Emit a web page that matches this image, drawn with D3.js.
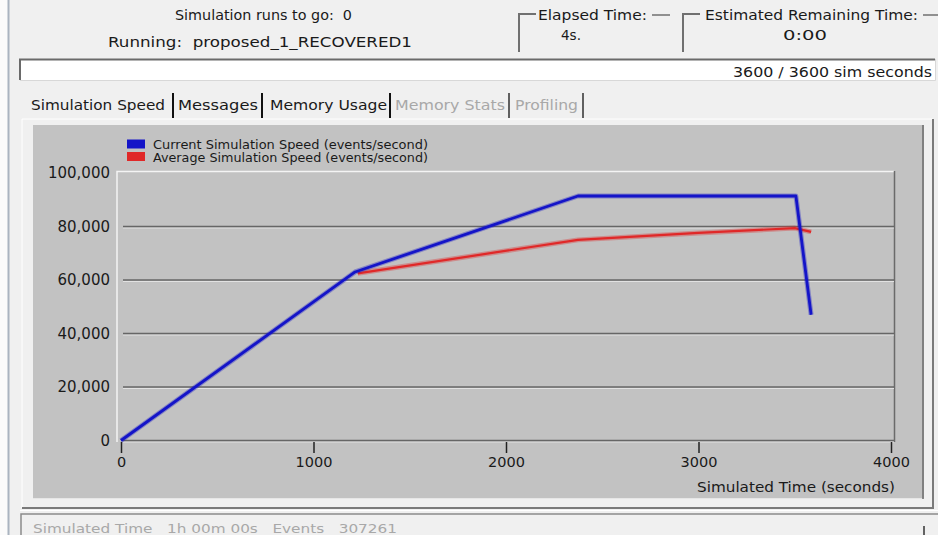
<!DOCTYPE html>
<html>
<head>
<meta charset="utf-8">
<script src="https://cdn.jsdelivr.net/npm/d3@7"></script>
<style>
  body { margin: 0; background: #f0f0f0; }
  svg text { font-family: "DejaVu Sans", sans-serif; font-size: 13.5px; fill: #1a1a1a; white-space: pre; }
</style>
</head>
<body>
<div id="chart"></div>
<script>
const width = 938;
const height = 535;

// series
const currentTime = [0, 1216, 2374, 3506, 3585];
const currentSpeed = [0, 63000, 91400, 91400, 47000];
const averageTime = [1230, 2374, 3000, 3500, 3585];
const averageSpeed = [62500, 75000, 77600, 79400, 78000];

const xTicks = [0, 1000, 2000, 3000, 4000];
const yTicks = [0, 20000, 40000, 60000, 80000, 100000];
const legendLabels = ["Current Simulation Speed (events/second)", "Average Simulation Speed (events/second)"];
const seriesColors = ["#1414c8", "#e02828"];
const tabNames = ["Simulation Speed", "Messages", "Memory Usage", "Memory Stats", "Profiling"];
const tabEnabled = [true, true, true, false, false];

const svg = d3.select("#chart")
    .append("svg")
    .attr("width", width)
    .attr("height", height);

// squeeze/stretch a text to the width it has in the screenshot
function fit(sel, w) {
    return sel.attr("textLength", w).attr("lengthAdjust", "spacingAndGlyphs");
}

// window edge
svg.append("rect").attr("x", 0).attr("y", 0).attr("width", 8).attr("height", height).attr("fill", "#fbfbfb");
svg.append("line").attr("x1", 8.5).attr("x2", 8.5).attr("y1", 0).attr("y2", height)
    .attr("stroke", "#aab4c0").attr("stroke-width", 2);

// status texts
fit(svg.append("text").attr("x", 175).attr("y", 20).text("Simulation runs to go:  0"), 177);
fit(svg.append("text").attr("x", 108).attr("y", 47).text("Running:  proposed_1_RECOVERED1"), 304);

// group boxes
function groupBox(x0, labelX, label, labelW, dashEnd, value, valueX, valueW) {
    svg.append("path").attr("d", `M${x0},52V14H${x0 + 17}`)
        .attr("fill", "none").attr("stroke", "#707070").attr("stroke-width", 2);
    fit(svg.append("text").attr("x", labelX).attr("y", 20).text(label), labelW);
    svg.append("line").attr("x1", labelX + labelW + 5).attr("x2", dashEnd).attr("y1", 15).attr("y2", 15)
        .attr("stroke", "#707070").attr("stroke-width", 1.5);
    fit(svg.append("text").attr("x", valueX).attr("y", 40).text(value), valueW);
}
groupBox(519, 538, "Elapsed Time:", 109, 670, "4s.", 561, 20);
groupBox(683, 705, "Estimated Remaining Time:", 213, 938, "0:00", 783, 44);

// progress bar
svg.append("rect").attr("x", 20).attr("y", 59).attr("width", 915).attr("height", 21)
    .attr("fill", "#ffffff");
svg.append("path").attr("d", "M20,80V59.5H935").attr("fill", "none").attr("stroke", "#6a6a6a").attr("stroke-width", 2);
svg.append("path").attr("d", "M20,80.5H935.5V59").attr("fill", "none").attr("stroke", "#d8d8d8").attr("stroke-width", 1);
fit(svg.append("text").attr("x", 733).attr("y", 77).text("3600 / 3600 sim seconds"), 199);

// tab frame
svg.append("path").attr("d", "M22,508V119H933").attr("fill", "none").attr("stroke", "#ffffff").attr("stroke-width", 1);
svg.append("path").attr("d", "M22,508H933V119").attr("fill", "none").attr("stroke", "#7a7a7a").attr("stroke-width", 2);
svg.append("line").attr("x1", 20).attr("x2", 938).attr("y1", 510.5).attr("y2", 510.5).attr("stroke", "#ffffff");

// tabs
const tabStarts = [31, 178, 270, 395, 515];
const tabWidths = [134, 80, 117, 110, 63];
const tabSeps = [173, 262, 390, 509, 583];
tabNames.forEach((name, i) => {
    fit(svg.append("text").attr("x", tabStarts[i]).attr("y", 110)
        .style("fill", tabEnabled[i] ? "#1a1a1a" : "#a8a8a8").text(name), tabWidths[i]);
    svg.append("line").attr("x1", tabSeps[i]).attr("x2", tabSeps[i]).attr("y1", 93).attr("y2", 118)
        .attr("stroke", tabEnabled[i] ? "#111" : "#606060").attr("stroke-width", 2);
});

// chart panel
svg.append("rect").attr("x", 33).attr("y", 125).attr("width", 891).attr("height", 374).attr("fill", "#c2c2c2");
svg.append("line").attr("x1", 33).attr("x2", 924).attr("y1", 498.5).attr("y2", 498.5).attr("stroke", "#e6e6e6");
svg.append("line").attr("x1", 923).attr("x2", 923).attr("y1", 125).attr("y2", 499).attr("stroke", "#6a6a6a").attr("stroke-width", 1.5);

const x = d3.scaleLinear().domain([0, 4000]).range([121, 891]);
const y = d3.scaleLinear().domain([0, 100000]).range([440.5, 173]);

// plot frame: light top/left, dark right
svg.append("path").attr("d", `M117,442V171.5H894`).attr("fill", "none").attr("stroke", "#f4f4f4").attr("stroke-width", 1.5);
svg.append("line").attr("x1", 894.5).attr("x2", 894.5).attr("y1", 171).attr("y2", 442).attr("stroke", "#6a6a6a").attr("stroke-width", 1.5);

// grid lines with etched highlight
const gridTicks = yTicks.filter(d => d < 100000);
svg.append("g").selectAll("line.hi").data(gridTicks).join("line")
    .attr("x1", 123).attr("x2", 894).attr("y1", d => y(d) + 1.5).attr("y2", d => y(d) + 1.5)
    .attr("stroke", "#e2e2e2").attr("stroke-width", 1);
svg.append("g").selectAll("line.gr").data(gridTicks).join("line")
    .attr("x1", 123).attr("x2", 894).attr("y1", d => y(d)).attr("y2", d => y(d))
    .attr("stroke", "#666666").attr("stroke-width", 1.6);

// y axis labels
const yAxis = svg.append("g").attr("transform", "translate(112,0)")
    .call(d3.axisLeft(y).tickValues(yTicks).tickSize(0).tickPadding(2).tickFormat(d3.format(",")));
yAxis.select(".domain").remove();
yAxis.selectAll("text").style("font-family", "DejaVu Sans").style("font-size", "15px").style("fill", "#1a1a1a");

// x axis
const xAxis = svg.append("g").attr("transform", "translate(0,442)")
    .call(d3.axisBottom(x).tickValues(xTicks).tickSize(11).tickPadding(4).tickFormat(d3.format("d")));
xAxis.select(".domain").remove();
xAxis.selectAll("line").attr("stroke", "#222").attr("stroke-width", 1.5);
xAxis.selectAll("text").style("font-family", "DejaVu Sans").style("font-size", "14.5px").style("fill", "#1a1a1a");

fit(svg.append("text").attr("x", 697).attr("y", 492).text("Simulated Time (seconds)"), 198);

// series
const line = d3.line().x(d => x(d[0])).y(d => y(d[1]));
const currentData = d3.zip(currentTime, currentSpeed);
const averageData = d3.zip(averageTime, averageSpeed);

[averageData, currentData].forEach((data, k) => {
    const color = k === 0 ? seriesColors[1] : seriesColors[0];
    svg.append("path").datum(data).attr("d", line).attr("fill", "none")
        .attr("stroke", color).attr("stroke-opacity", 0.35).attr("stroke-width", 5).attr("stroke-linejoin", "round");
    svg.append("path").datum(data).attr("d", line).attr("fill", "none")
        .attr("stroke", color).attr("stroke-width", k === 0 ? 2.2 : 2.8).attr("stroke-linejoin", "round");
});

// legend
const legend = svg.append("g");
legendLabels.forEach((label, i) => {
    legend.append("rect").attr("x", 127).attr("y", 139.5 + i * 12.5).attr("width", 18).attr("height", 9)
        .attr("fill", seriesColors[i]);
    fit(legend.append("text").attr("x", 153).attr("y", 149 + i * 12.5).style("font-size", "12px").text(label), 275);
});

// status strip at the bottom
svg.append("path").attr("d", "M21,535V514H938").attr("fill", "none").attr("stroke", "#8a8a8a").attr("stroke-width", 1.5);
fit(svg.append("text").attr("x", 33).attr("y", 533).style("fill", "#a8a8a8").style("font-size", "13px")
    .text("Simulated Time   1h 00m 00s   Events   307261"), 364);
svg.append("line").attr("x1", 924).attr("x2", 924).attr("y1", 526).attr("y2", 535).attr("stroke", "#333").attr("stroke-width", 1.5);
</script>
</body>
</html>
